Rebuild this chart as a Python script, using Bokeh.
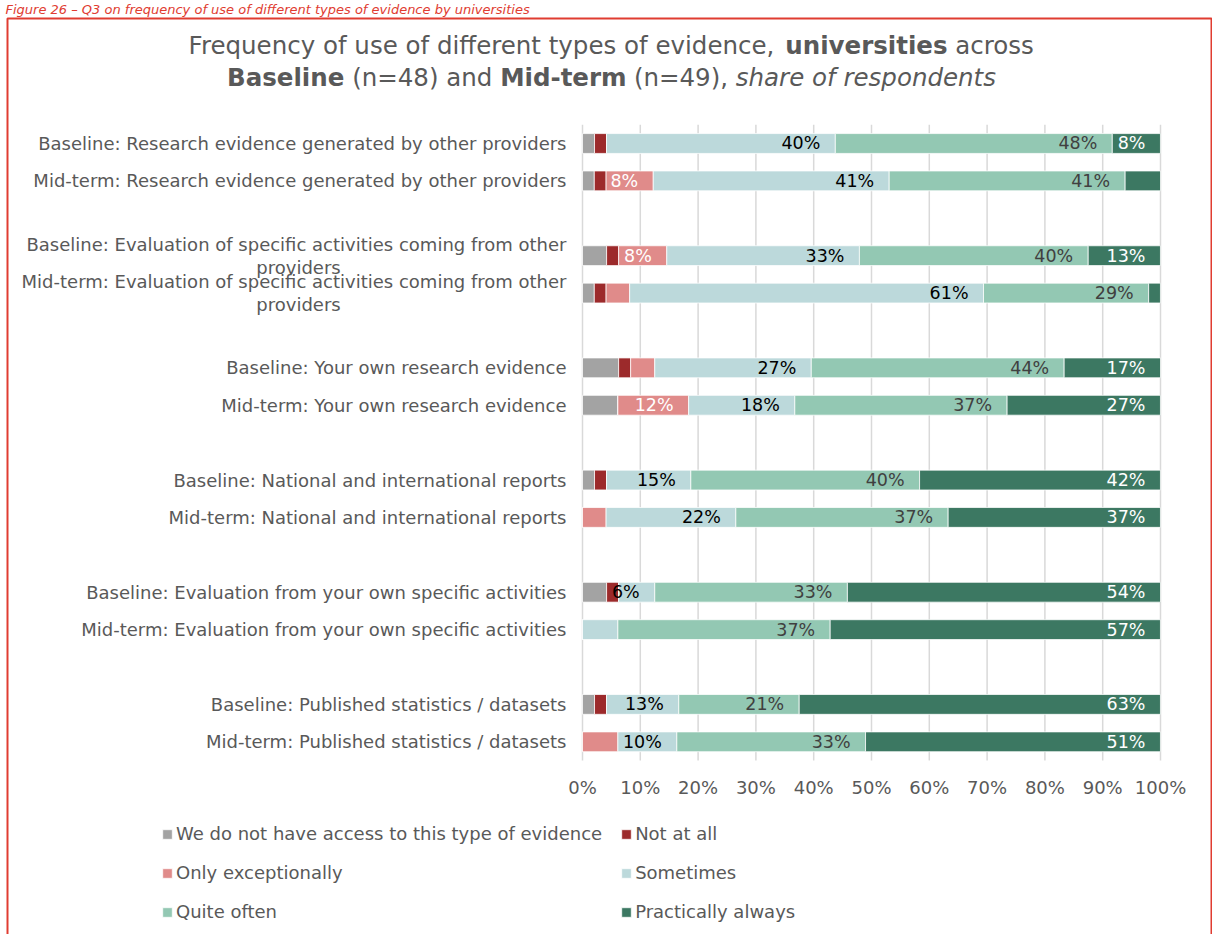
from bokeh.plotting import figure
from bokeh.models import (ColumnDataSource, Range1d, Label, Legend, LegendItem, BoxAnnotation)
from bokeh.core.properties import value
from bokeh.embed import file_html
from bokeh.resources import INLINE

FONT = "DejaVu Sans"
GREY_TXT = "#595959"

# ---------------- data ----------------
row_labels = [
    "Baseline: Research evidence generated by other providers",
    "Mid-term: Research evidence generated by other providers",
    "Baseline: Evaluation of specific activities coming from other\nproviders",
    "Mid-term: Evaluation of specific activities coming from other\nproviders",
    "Baseline: Your own research evidence",
    "Mid-term: Your own research evidence",
    "Baseline: National and international reports",
    "Mid-term: National and international reports",
    "Baseline: Evaluation from your own specific activities",
    "Mid-term: Evaluation from your own specific activities",
    "Baseline: Published statistics / datasets",
    "Mid-term: Published statistics / datasets",
]
series_names = ["We do not have access to this type of evidence", "Not at all",
                "Only exceptionally", "Sometimes", "Quite often", "Practically always"]
series_keys = ["no_access", "not_at_all", "only_exc", "sometimes", "quite_often", "practically"]
colors = ["#a3a3a3", "#9c2a2b", "#e08b8a", "#bcd9db", "#93c8b3", "#3c7862"]
label_colors = [None, None, "#ffffff", "#000000", "#404040", "#ffffff"]

no_access   = [2.08, 2.04, 4.17, 2.04, 6.25, 6.12, 2.08, 0, 4.17, 0, 2.08, 0]
not_at_all  = [2.08, 2.04, 2.08, 2.04, 2.08, 0, 2.08, 0, 2.08, 0, 2.08, 0]
only_exc    = [0, 8.16, 8.33, 4.08, 4.17, 12.24, 0, 4.08, 0, 0, 0, 6.12]
sometimes   = [39.58, 40.82, 33.33, 61.22, 27.08, 18.37, 14.58, 22.45, 6.25, 6.12, 12.5, 10.2]
quite_often = [47.92, 40.82, 39.58, 28.57, 43.75, 36.73, 39.58, 36.73, 33.33, 36.73, 20.83, 32.65]
practically = [8.33, 6.12, 12.5, 2.04, 16.67, 26.53, 41.67, 36.73, 54.17, 57.14, 62.5, 51.02]
series_values = [no_access, not_at_all, only_exc, sometimes, quite_often, practically]

x_ticks = [0, 10, 20, 30, 40, 50, 60, 70, 80, 90, 100]

caption = "Figure 26 \u2013 Q3 on frequency of use of different types of evidence by universities"
title_line1 = [("Frequency of use of different types of evidence, ", "normal"),
               ("universities", "bold"), (" across", "normal")]
title_line2 = [("Baseline", "bold"), (" (n=48) and ", "normal"), ("Mid-term", "bold"),
               (" (n=49), ", "normal"), ("share of respondents", "italic")]

# ---------------- layout (pixels) ----------------
W, H = 1212, 934
X0_PX, X100_PX = 582, 1160          # where 0% and 100% fall
Y_TOP_PX, Y_BOT_PX = 124.3, 760.0   # top / bottom of the bar area
N_SLOTS = 17
slots = [3 * (i // 2) + (i % 2) for i in range(len(row_labels))]

ppu = (X100_PX - X0_PX) / 100.0
pps = (Y_BOT_PX - Y_TOP_PX) / N_SLOTS
x_start = -X0_PX / ppu
x_end = (W - X0_PX) / ppu
y_top = -0.5 - Y_TOP_PX / pps
y_bot = N_SLOTS - 0.5 + (H - Y_BOT_PX) / pps

p = figure(width=W, height=H, title=None,
           x_range=Range1d(x_start, x_end), y_range=Range1d(y_bot, y_top),
           x_axis_location=None, y_axis_location=None,
           min_border=0, min_border_left=0, min_border_right=0,
           min_border_top=0, min_border_bottom=0,
           output_backend="svg", toolbar_location=None)
p.outline_line_color = None
p.background_fill_color = "white"
p.border_fill_color = "white"
p.xgrid.visible = False
p.ygrid.visible = False

LBL = "18px"

# vertical gridlines at the ticks
grid_src = ColumnDataSource(dict(x=x_ticks, y0=[-0.5] * len(x_ticks),
                                 y1=[N_SLOTS - 0.5] * len(x_ticks)))
p.segment(x0="x", x1="x", y0="y0", y1="y1", source=grid_src,
          line_color="#d9d9d9", line_width=1.5)

# stacked bars
data = {"y": slots}
for k, v in zip(series_keys, series_values):
    data[k] = v
src = ColumnDataSource(data)
renderers = p.hbar_stack(series_keys, y="y", height=0.53, color=colors, source=src,
                         line_color="white", line_width=0.75)

# data labels
lx, ly, lt, lc = [], [], [], []
for i in range(len(row_labels)):
    cum = 0.0
    for s, vals in enumerate(series_values):
        v = vals[i]
        cum += v
        if s >= 2 and v >= 6.2:
            lx.append(cum)
            ly.append(slots[i])
            lt.append(f"{int(v + 0.5)}%")
            lc.append(label_colors[s])
lab_src = ColumnDataSource(dict(x=lx, y=ly, text=lt, color=lc))
p.text(x="x", y="y", text="text", source=lab_src, text_align="right",
       text_baseline="middle", x_offset=-15, text_color="color",
       text_font=value(FONT), text_font_size="17.5px")

# x tick labels
tick_src = ColumnDataSource(dict(x=x_ticks, y=[N_SLOTS - 0.5] * len(x_ticks),
                                 text=[f"{t}%" for t in x_ticks]))
p.text(x="x", y="y", text="text", source=tick_src, text_align="center",
       text_baseline="middle", y_offset=27, text_color=GREY_TXT,
       text_font=value(FONT), text_font_size=LBL)

# category labels
one_y, one_t, l1_y, l1_t, l2_y, l2_t = [], [], [], [], [], []
for i, lab in enumerate(row_labels):
    lines = lab.split("\n")
    if len(lines) == 1:
        one_y.append(slots[i]); one_t.append(lines[0])
    else:
        l1_y.append(slots[i]); l1_t.append(lines[0])
        l2_y.append(slots[i]); l2_t.append(lines[1])
p.text(x=[0] * len(one_y), y=one_y, text=one_t, text_align="right", text_baseline="middle",
       x_offset=-16, text_color=GREY_TXT, text_font=value(FONT), text_font_size=LBL)
p.text(x=[0] * len(l1_y), y=l1_y, text=l1_t, text_align="right", text_baseline="middle",
       x_offset=-16, y_offset=-11.5, text_color=GREY_TXT, text_font=value(FONT),
       text_font_size=LBL)
p.text(x=[0] * len(l2_y), y=l2_y, text=l2_t, text_align="center", text_baseline="middle",
       x_offset=-284, y_offset=11.5, text_color=GREY_TXT, text_font=value(FONT),
       text_font_size=LBL)

# title with mixed styles
W_REG = {' ': 651, ',': 651, '(': 799, ')': 799, '=': 1716, '-': 739, 'F': 1178,
         'a': 1255, 'b': 1300, 'c': 1126, 'd': 1300, 'e': 1260, 'f': 721, 'g': 1300, 'h': 1298,
         'i': 569, 'j': 569, 'k': 1186, 'l': 569, 'm': 1995, 'n': 1298, 'o': 1253, 'p': 1300,
         'q': 1300, 'r': 842, 's': 1067, 't': 803, 'u': 1298, 'v': 1212, 'w': 1675, 'x': 1212,
         'y': 1212, 'z': 1075}
for d in "0123456789":
    W_REG[d] = 1303
W_BOLD = {' ': 713, '-': 852, 'B': 1564, 'M': 1997, 'a': 1382, 'd': 1466, 'e': 1389, 'i': 702,
          'l': 702, 'm': 2134, 'n': 1458, 'r': 1010, 's': 1219, 't': 979, 'u': 1458, 'v': 1331}
TSIZE = 24.5


def tw(s, style):
    table = W_BOLD if style == "bold" else W_REG
    return sum(table.get(c, 1250) for c in s) / 2048.0 * TSIZE


def title_line(segs, cx, page_y):
    total = sum(tw(t, st) for t, st in segs)
    x = cx - total / 2.0
    for t, st in segs:
        lead = len(t) - len(t.lstrip(" "))
        xs = x + tw(t[:lead], st)
        p.add_layout(Label(x=xs, y=H - page_y, x_units="screen", y_units="screen",
                           text=t.strip(" "), text_align="left", text_baseline="middle",
                           text_color=GREY_TXT, text_font=FONT,
                           text_font_size=f"{TSIZE}px", text_font_style=st))
        x += tw(t, st)


title_line(title_line1, 611, 45)
title_line(title_line2, 611, 77)

# caption at top and red frame
p.add_layout(Label(x=5, y=H - 1, x_units="screen", y_units="screen", text=caption,
                   text_align="left", text_baseline="top", text_color="#e03c31",
                   text_font=FONT, text_font_size="13px", text_font_style="italic"))
p.add_layout(BoxAnnotation(left=7, right=W - 1, top=H - 18, bottom=-20,
                           left_units="screen", right_units="screen",
                           top_units="screen", bottom_units="screen",
                           fill_alpha=0, line_alpha=1, line_color="#e03c31", line_width=2))

# legend
items = [LegendItem(label=n, renderers=[r]) for n, r in zip(series_names, renderers)]
legend = Legend(items=items, orientation="horizontal", nrows=3, location=(161, H - 922),
                glyph_width=12, glyph_height=12, label_standoff=3, label_height=21,
                spacing=18, padding=0, margin=0, border_line_color=None,
                background_fill_alpha=0, label_text_color=GREY_TXT,
                label_text_font=FONT, label_text_font_size=LBL)
p.add_layout(legend)

open("out.html", "w").write(file_html(p, INLINE))
